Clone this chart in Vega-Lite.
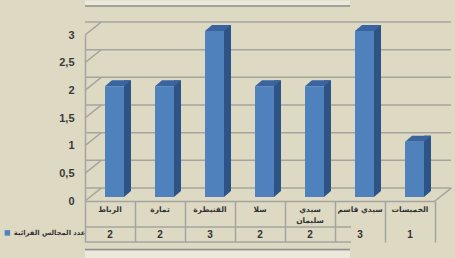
{
  "$schema": "https://vega.github.io/schema/vega-lite/v6.json",
  "width": 350,
  "height": 166,
  "autosize": {"type": "none"},
  "padding": {"left": 85, "top": 35, "right": 20, "bottom": 57},
  "background": "#DDD9C3",
  "config": {
    "view": {"stroke": null}, "font": "DejaVu Sans",
    "locale": {"number": {"decimal": ",", "thousands": " ", "grouping": [3], "currency": ["", ""]}},
    "axisY": {"labelOverlap": false}, "axisX": {"labelOverlap": false}
  },
  "datasets": {
    "main": [
      {"city": "الرباط", "label": "الرباط", "count": 2, "series": "عدد المجالس القرائية"},
      {"city": "تمارة", "label": "تمارة", "count": 2, "series": "عدد المجالس القرائية"},
      {"city": "القنيطرة", "label": "القنيطرة", "count": 3, "series": "عدد المجالس القرائية"},
      {"city": "سلا", "label": "سلا", "count": 2, "series": "عدد المجالس القرائية"},
      {"city": "سيدي سليمان", "label": "سيدي\nسليمان", "count": 2, "series": "عدد المجالس القرائية"},
      {"city": "سيدي قاسم", "label": "سيدي قاسم", "count": 3, "series": "عدد المجالس القرائية"},
      {"city": "الخميسات", "label": "الخميسات", "count": 1, "series": "عدد المجالس القرائية"}
    ],
    "gridvals": [{"v": 0}, {"v": 0.5}, {"v": 1}, {"v": 1.5}, {"v": 2}, {"v": 2.5}, {"v": 3}],
    "one": [{"k": 1}]
  },
  "layer": [
    {
      "data": {"name": "one"},
      "mark": {"type": "rule", "color": "#ECE9DC", "strokeWidth": 5, "xOffset": -85, "x2Offset": 20, "yOffset": -32},
      "encoding": {"y": {"datum": 3, "type": "quantitative"}}
    },
    {
      "data": {"name": "one"},
      "mark": {"type": "rule", "color": "#8E8E8E", "strokeWidth": 1.5, "xOffset": -85, "x2Offset": 20, "yOffset": -29},
      "encoding": {"y": {"datum": 3, "type": "quantitative"}}
    },
    {
      "data": {"name": "one"},
      "mark": {"type": "rule", "color": "#ECE9DC", "strokeWidth": 7, "xOffset": -85, "x2Offset": 20, "yOffset": 53.5},
      "encoding": {"y": {"datum": 0, "type": "quantitative"}}
    },
    {
      "data": {"name": "one"},
      "mark": {"type": "rule", "color": "#8E8E8E", "strokeWidth": 1.5, "xOffset": -85, "x2Offset": 20, "yOffset": 48.5},
      "encoding": {"y": {"datum": 0, "type": "quantitative"}}
    },
    {
      "data": {"name": "gridvals"},
      "mark": {"type": "rule", "color": "#A5A5A0", "strokeWidth": 1.5, "xOffset": 16, "x2Offset": 17, "yOffset": -13},
      "encoding": {
        "y": {
          "field": "v", "type": "quantitative",
          "scale": {"domain": [0, 3], "nice": false, "zero": true},
          "axis": {
            "tickCount": 6, "format": "~g",
            "title": null, "grid": false, "ticks": false, "labelOverlap": false,
            "domain": true, "domainColor": "#A5A5A0", "domainWidth": 1.5,
            "labelPadding": 11, "labelFontSize": 11, "labelFontWeight": "bold", "labelFont": "Liberation Sans",
            "labelColor": "#3A3A3A"
          }
        }
      }
    },
    {
      "data": {"name": "gridvals"},
      "mark": {"type": "point", "shape": "M -1 0.8 L 1 -0.8", "size": 272, "filled": false, "opacity": 1, "stroke": "#A5A5A0", "strokeWidth": 1.5, "xOffset": 8.25, "yOffset": -6.6},
      "encoding": {
        "x": {"datum": "الرباط", "type": "nominal", "bandPosition": 0},
        "y": {"field": "v", "type": "quantitative"}
      }
    },
    {
      "data": {"name": "one"},
      "mark": {"type": "point", "shape": "M -1 0.8 L 1 -0.8", "size": 272, "filled": false, "opacity": 1, "stroke": "#A5A5A0", "strokeWidth": 1.5, "xOffset": 8.25, "yOffset": -6.6},
      "encoding": {
        "x": {"datum": "الخميسات", "type": "nominal", "bandPosition": 1},
        "y": {"datum": 0, "type": "quantitative"}
      }
    },
    {
      "data": {"name": "one"},
      "mark": {"type": "rule", "color": "#A5A5A0", "strokeWidth": 1.5, "xOffset": -84, "yOffset": 26},
      "encoding": {"y": {"datum": 0, "type": "quantitative"}}
    },
    {
      "data": {"name": "one"},
      "mark": {"type": "rule", "color": "#A5A5A0", "strokeWidth": 1.5, "xOffset": -84, "yOffset": 41},
      "encoding": {"y": {"datum": 0, "type": "quantitative"}}
    },
    {
      "data": {"name": "main"},
      "mark": {"type": "bar", "width": 7, "color": "#2E5486", "xOffset": 17.5, "yOffset": -10, "y2Offset": -10},
      "encoding": {
        "x": {"field": "city", "type": "nominal", "sort": null},
        "y": {"field": "count", "type": "quantitative"},
        "y2": {"datum": 0}
      }
    },
    {
      "data": {"name": "main"},
      "mark": {"type": "point", "shape": "M -1 -0.857 L -1 0.857 L 1 -0.857 Z", "size": 49, "filled": true, "opacity": 1, "color": "#2E5486", "strokeWidth": 0, "xOffset": 17.5, "yOffset": -7},
      "encoding": {
        "x": {"field": "city", "type": "nominal", "sort": null},
        "y": {"datum": 0, "type": "quantitative"}
      }
    },
    {
      "data": {"name": "main"},
      "mark": {"type": "point", "shape": "M -1 0.2308 L 0.4615 0.2308 L 1 -0.2308 L -0.4615 -0.2308 Z", "size": 676, "filled": true, "opacity": 1, "color": "#3A64A0", "strokeWidth": 0, "xOffset": 8, "yOffset": -7},
      "encoding": {
        "x": {"field": "city", "type": "nominal", "sort": null},
        "y": {"field": "count", "type": "quantitative"}
      }
    },
    {
      "data": {"name": "main"},
      "mark": {"type": "bar", "width": 19, "xOffset": 4.5, "yOffset": -4, "y2Offset": -4},
      "encoding": {
        "x": {
          "field": "city", "type": "nominal", "sort": null,
          "scale": {"type": "band", "paddingInner": 0, "paddingOuter": 0,
            "domain": ["الرباط", "تمارة", "القنيطرة", "سلا", "سيدي سليمان", "سيدي قاسم", "الخميسات"]},
          "axis": {
            "orient": "bottom", "title": null, "labels": false,
            "domain": true, "domainColor": "#A5A5A0", "domainWidth": 1.5,
            "ticks": true, "tickBand": "extent", "tickSize": 41, "tickColor": "#A5A5A0", "tickWidth": 1.5
          }
        },
        "y": {"field": "count", "type": "quantitative"},
        "y2": {"datum": 0},
        "color": {
          "field": "series", "type": "nominal",
          "scale": {"range": ["#4F81BD"]},
          "legend": {
            "orient": "none", "legendX": -81, "legendY": 194.5, "title": null, "padding": 0,
            "symbolType": "square", "symbolSize": 30, "symbolStrokeWidth": 0, "labelOffset": 3,
            "labelFontSize": 6.8, "labelFontWeight": "bold", "labelColor": "#333333", "labelLimit": 0
          }
        }
      }
    },
    {
      "data": {"name": "main"},
      "mark": {"type": "text", "dy": 5, "align": "center", "baseline": "top", "lineBreak": "\n", "lineHeight": 11, "fontSize": 7.5, "fontWeight": "bold", "color": "#333333"},
      "encoding": {
        "x": {"field": "city", "type": "nominal", "sort": null},
        "y": {"datum": 0, "type": "quantitative"},
        "text": {"field": "label"}
      }
    },
    {
      "data": {"name": "main"},
      "mark": {"type": "text", "dy": 34, "baseline": "middle", "fontSize": 10, "fontWeight": "bold", "color": "#333333", "font": "Liberation Sans"},
      "encoding": {
        "x": {"field": "city", "type": "nominal", "sort": null},
        "y": {"datum": 0, "type": "quantitative"},
        "text": {"field": "count", "type": "quantitative"}
      }
    }
  ]
}
